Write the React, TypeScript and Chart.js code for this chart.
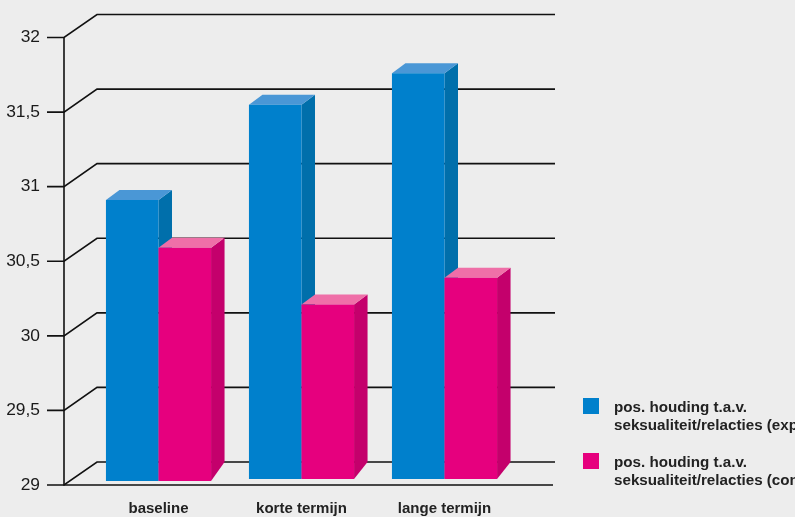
import React, { useEffect, useRef } from "react";
import { Chart, registerables } from "chart.js";

Chart.register(...registerables);

const categories = ["baseline", "korte termijn", "lange termijn"];
const barBases = [29.027, 29.04, 29.04];
const experimentValues = [30.91, 31.55, 31.76];
const controlValues = [30.59, 30.21, 30.39];
const experimentLabel = ["pos. houding t.a.v.", "seksualiteit/relacties (experimentele groep)"];
const controlLabel = ["pos. houding t.a.v.", "seksualiteit/relacties (controlegroep)"];
const yTicks = [29, 29.5, 30, 30.5, 31, 31.5, 32];

const BG = "#ededed";
const INK = "#111111";
const FONT = "'Liberation Sans', Arial, sans-serif";

const faces = [
  { front: "#0080cc", side: "#006fab", top: "#4a97d6" },
  { front: "#e6007e", side: "#c4006c", top: "#ef6fa8" },
];

function drawWall(chart: any) {
  const ctx = chart.ctx;
  const y = chart.scales.y;
  const axisX = 64;
  const dx = 33;
  const dy = 23;
  ctx.save();
  ctx.strokeStyle = INK;
  ctx.lineWidth = 1.6;
  yTicks.forEach((t) => {
    const py = y.getPixelForValue(t);
    ctx.beginPath();
    ctx.moveTo(47, py);
    ctx.lineTo(axisX, py);
    ctx.lineTo(axisX + dx, py - dy);
    ctx.lineTo(555, py - dy);
    ctx.stroke();
  });
  ctx.beginPath();
  ctx.moveTo(axisX, y.getPixelForValue(32));
  ctx.lineTo(axisX, y.getPixelForValue(29));
  ctx.lineTo(553, y.getPixelForValue(29));
  ctx.stroke();
  ctx.restore();
}

function drawBars(chart: any) {
  const ctx = chart.ctx;
  const backBottom = chart.scales.y.getPixelForValue(29) - 23;
  const dx = 13.5;
  const dy = 10;
  chart.data.datasets.forEach((_: any, index: number) => {
    const face = faces[index];
    chart.getDatasetMeta(index).data.forEach((bar: any) => {
      const left = bar.x - bar.width / 2;
      const right = bar.x + bar.width / 2;
      ctx.save();
      ctx.fillStyle = face.side;
      ctx.beginPath();
      ctx.moveTo(right, bar.y);
      ctx.lineTo(right + dx, bar.y - dy);
      ctx.lineTo(right + dx, backBottom);
      ctx.lineTo(right, bar.base);
      ctx.closePath();
      ctx.fill();
      ctx.fillStyle = face.top;
      ctx.beginPath();
      ctx.moveTo(left, bar.y);
      ctx.lineTo(left + dx, bar.y - dy);
      ctx.lineTo(right + dx, bar.y - dy);
      ctx.lineTo(right, bar.y);
      ctx.closePath();
      ctx.fill();
      ctx.restore();
      bar.draw(ctx);
    });
  });
}

const scenePlugin = {
  id: "scene",
  beforeDatasetsDraw(chart: any) {
    drawWall(chart);
    drawBars(chart);
    return false;
  },
};

const legendPlugin = {
  id: "sideLegend",
  afterDraw(chart: any) {
    const ctx = chart.ctx;
    const tops = [398, 453];
    ctx.save();
    ctx.font = `bold 15.2px ${FONT}`;
    ctx.textBaseline = "alphabetic";
    chart.data.datasets.forEach((ds: any, i: number) => {
      ctx.fillStyle = faces[i].front;
      ctx.fillRect(583, tops[i], 16, 16);
      ctx.fillStyle = "#222222";
      ds.legendLines.forEach((line: string, j: number) => {
        ctx.fillText(line, 614, tops[i] + 13.5 + j * 18.5);
      });
    });
    ctx.restore();
  },
};

export default function App() {
  const ref = useRef<HTMLCanvasElement>(null);
  useEffect(() => {
    document.body.style.margin = "0";
    document.body.style.background = BG;
    document.body.style.overflow = "hidden";
    const makeBars = (values: number[]) => values.map((v, i) => [barBases[i], v]);
    const chart = new Chart(ref.current!, {
      type: "bar",
      data: {
        labels: categories,
        datasets: [
          {
            label: experimentLabel.join(" "),
            legendLines: experimentLabel,
            data: makeBars(experimentValues),
            backgroundColor: faces[0].front,
          },
          {
            label: controlLabel.join(" "),
            legendLines: controlLabel,
            data: makeBars(controlValues),
            backgroundColor: faces[1].front,
          },
        ] as any,
      },
      options: {
        responsive: false,
        animation: false,
        devicePixelRatio: 1,
        layout: { padding: { top: 37.5, right: 279, left: 0, bottom: 0 } },
        datasets: { bar: { categoryPercentage: 0.735, barPercentage: 1 } },
        plugins: { legend: { display: false }, tooltip: { enabled: false } },
        scales: {
          x: {
            grid: { display: false },
            border: { display: false },
            ticks: {
              color: "#222222",
              font: { family: FONT, size: 15, weight: "bold" },
              padding: 7,
              maxRotation: 0,
              autoSkip: false,
            },
            afterFit: (s: any) => {
              s.height = 32;
              s.paddingLeft = 0;
              s.paddingRight = 0;
            },
          },
          y: {
            min: 29,
            max: 32,
            grid: { display: false, drawTicks: false },
            border: { display: false },
            afterBuildTicks: (s: any) => {
              s.ticks = yTicks.map((value) => ({ value }));
            },
            ticks: {
              color: "#1a1a1a",
              font: { family: FONT, size: 17.4 },
              padding: 47,
              callback: (v: any) => String(v).replace(".", ","),
            },
            afterFit: (s: any) => {
              s.width = 87;
              s.paddingTop = 0;
              s.paddingBottom = 0;
            },
          },
        },
      } as any,
      plugins: [scenePlugin, legendPlugin],
    });
    return () => chart.destroy();
  }, []);
  return (
    <div style={{ width: 795, height: 517, background: BG }}>
      <canvas ref={ref} width={795} height={517} style={{ display: "block" }} />
    </div>
  );
}
